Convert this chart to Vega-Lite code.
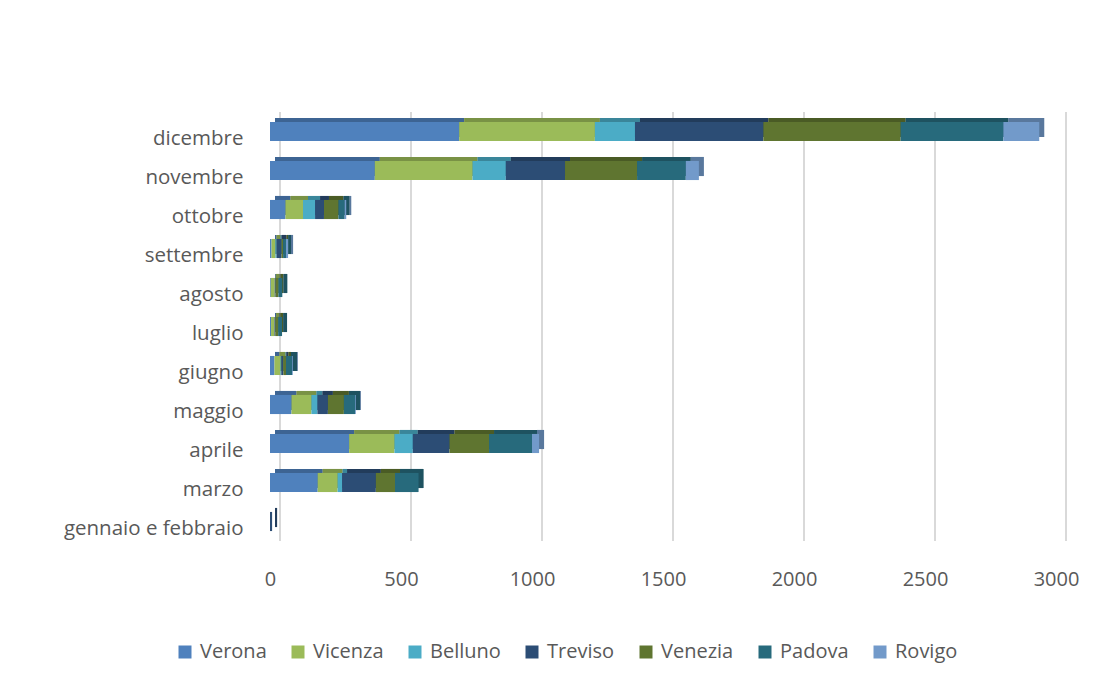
{
  "$schema": "https://vega.github.io/schema/vega-lite/v6.json",
  "width": 786,
  "height": 429,
  "autosize": {"type": "none"},
  "padding": {"left": 270, "top": 112, "right": 52, "bottom": 141},
  "background": "white",
  "config": {
    "view": {"stroke": null},
    "font": "Open Sans"
  },
  "datasets": {
    "province": [
      {"p": "Verona", "ordine": 1},
      {"p": "Vicenza", "ordine": 2},
      {"p": "Belluno", "ordine": 3},
      {"p": "Treviso", "ordine": 4},
      {"p": "Venezia", "ordine": 5},
      {"p": "Padova", "ordine": 6},
      {"p": "Rovigo", "ordine": 7}
    ],
    "griglia": [
      {"v": 0}, {"v": 500}, {"v": 1000}, {"v": 1500}, {"v": 2000}, {"v": 2500}, {"v": 3000}
    ],
    "casi": [
      {"m": "dicembre", "p": "Verona", "v": 722},
      {"m": "dicembre", "p": "Vicenza", "v": 518},
      {"m": "dicembre", "p": "Belluno", "v": 153},
      {"m": "dicembre", "p": "Treviso", "v": 490},
      {"m": "dicembre", "p": "Venezia", "v": 524},
      {"m": "dicembre", "p": "Padova", "v": 392},
      {"m": "dicembre", "p": "Rovigo", "v": 137},
      {"m": "novembre", "p": "Verona", "v": 400},
      {"m": "novembre", "p": "Vicenza", "v": 373},
      {"m": "novembre", "p": "Belluno", "v": 127},
      {"m": "novembre", "p": "Treviso", "v": 226},
      {"m": "novembre", "p": "Venezia", "v": 275},
      {"m": "novembre", "p": "Padova", "v": 186},
      {"m": "novembre", "p": "Rovigo", "v": 50},
      {"m": "ottobre", "p": "Verona", "v": 59},
      {"m": "ottobre", "p": "Vicenza", "v": 67},
      {"m": "ottobre", "p": "Belluno", "v": 46},
      {"m": "ottobre", "p": "Treviso", "v": 34},
      {"m": "ottobre", "p": "Venezia", "v": 55},
      {"m": "ottobre", "p": "Padova", "v": 24},
      {"m": "ottobre", "p": "Rovigo", "v": 6},
      {"m": "settembre", "p": "Verona", "v": 6},
      {"m": "settembre", "p": "Vicenza", "v": 15},
      {"m": "settembre", "p": "Belluno", "v": 4},
      {"m": "settembre", "p": "Treviso", "v": 19},
      {"m": "settembre", "p": "Venezia", "v": 6},
      {"m": "settembre", "p": "Padova", "v": 11},
      {"m": "settembre", "p": "Rovigo", "v": 8},
      {"m": "agosto", "p": "Verona", "v": 3},
      {"m": "agosto", "p": "Vicenza", "v": 15},
      {"m": "agosto", "p": "Belluno", "v": 0},
      {"m": "agosto", "p": "Treviso", "v": 3},
      {"m": "agosto", "p": "Venezia", "v": 11},
      {"m": "agosto", "p": "Padova", "v": 15},
      {"m": "agosto", "p": "Rovigo", "v": 0},
      {"m": "luglio", "p": "Verona", "v": 4},
      {"m": "luglio", "p": "Vicenza", "v": 13},
      {"m": "luglio", "p": "Belluno", "v": 0},
      {"m": "luglio", "p": "Treviso", "v": 3},
      {"m": "luglio", "p": "Venezia", "v": 11},
      {"m": "luglio", "p": "Padova", "v": 15},
      {"m": "luglio", "p": "Rovigo", "v": 0},
      {"m": "giugno", "p": "Verona", "v": 17},
      {"m": "giugno", "p": "Vicenza", "v": 23},
      {"m": "giugno", "p": "Belluno", "v": 3},
      {"m": "giugno", "p": "Treviso", "v": 8},
      {"m": "giugno", "p": "Venezia", "v": 10},
      {"m": "giugno", "p": "Padova", "v": 23},
      {"m": "giugno", "p": "Rovigo", "v": 3},
      {"m": "maggio", "p": "Verona", "v": 82},
      {"m": "maggio", "p": "Vicenza", "v": 76},
      {"m": "maggio", "p": "Belluno", "v": 23},
      {"m": "maggio", "p": "Treviso", "v": 40},
      {"m": "maggio", "p": "Venezia", "v": 61},
      {"m": "maggio", "p": "Padova", "v": 43},
      {"m": "maggio", "p": "Rovigo", "v": 3},
      {"m": "aprile", "p": "Verona", "v": 302},
      {"m": "aprile", "p": "Vicenza", "v": 173},
      {"m": "aprile", "p": "Belluno", "v": 70},
      {"m": "aprile", "p": "Treviso", "v": 140},
      {"m": "aprile", "p": "Venezia", "v": 151},
      {"m": "aprile", "p": "Padova", "v": 164},
      {"m": "aprile", "p": "Rovigo", "v": 27},
      {"m": "marzo", "p": "Verona", "v": 182},
      {"m": "marzo", "p": "Vicenza", "v": 76},
      {"m": "marzo", "p": "Belluno", "v": 17},
      {"m": "marzo", "p": "Treviso", "v": 129},
      {"m": "marzo", "p": "Venezia", "v": 73},
      {"m": "marzo", "p": "Padova", "v": 90},
      {"m": "marzo", "p": "Rovigo", "v": 0},
      {"m": "gennaio e febbraio", "p": "Verona", "v": 0},
      {"m": "gennaio e febbraio", "p": "Vicenza", "v": 0},
      {"m": "gennaio e febbraio", "p": "Belluno", "v": 0},
      {"m": "gennaio e febbraio", "p": "Treviso", "v": 8},
      {"m": "gennaio e febbraio", "p": "Venezia", "v": 0},
      {"m": "gennaio e febbraio", "p": "Padova", "v": 0},
      {"m": "gennaio e febbraio", "p": "Rovigo", "v": 0}
    ]
  },
  "resolve": {"axis": {"x": "shared"}},
  "layer": [
    {
      "data": {"name": "griglia"},
      "mark": {"type": "rule", "color": "#d9d9d9", "strokeWidth": 2, "xOffset": 10},
      "encoding": {
        "x": {
          "field": "v",
          "type": "quantitative",
          "scale": {"domain": [0, 3000], "nice": false},
          "axis": {
            "title": null,
            "domain": false,
            "ticks": false,
            "grid": false,
            "format": "d",
            "values": [0, 500, 1000, 1500, 2000, 2500, 3000],
            "labelPadding": 28,
            "labelFontSize": 20,
            "labelColor": "#595959",
            "labelFont": "Open Sans",
            "labelFlush": false
          }
        }
      }
    },
    {
      "data": {"name": "casi"},
      "transform": [
        {"lookup": "p", "from": {"data": {"name": "province"}, "key": "p", "fields": ["ordine"]}}
      ],
      "layer": [
        {
          "mark": {"type": "bar", "xOffset": 5, "x2Offset": 5, "yOffset": -4, "y2Offset": -4},
          "encoding": {
            "color": {"field": "p", "type": "nominal"}
          }
        },
        {
          "mark": {"type": "bar", "xOffset": 5, "x2Offset": 5, "yOffset": -4, "y2Offset": -4, "color": "black", "opacity": 0.22},
          "encoding": {
            "detail": {"field": "p", "type": "nominal"}
          }
        },
        {
          "mark": {"type": "bar"},
          "encoding": {
            "color": {
              "field": "p",
              "type": "nominal",
              "scale": {
                "domain": ["Verona", "Vicenza", "Belluno", "Treviso", "Venezia", "Padova", "Rovigo"],
                "range": ["#4f81bd", "#9bbb59", "#4bacc6", "#2c4d75", "#5f7530", "#276a7c", "#729aca"]
              },
              "legend": {
                "title": null,
                "orient": "none",
                "legendX": -95,
                "legendY": 530,
                "direction": "horizontal",
                "symbolType": "square",
                "symbolSize": 169,
                "symbolStrokeWidth": 0,
                "labelFontSize": 20,
                "labelColor": "#595959",
                "labelFont": "Open Sans",
                "labelOffset": 5,
                "columnPadding": 21,
                "padding": 0
              }
            }
          }
        }
      ],
      "encoding": {
        "y": {
          "field": "m",
          "type": "nominal",
          "sort": ["dicembre", "novembre", "ottobre", "settembre", "agosto", "luglio", "giugno", "maggio", "aprile", "marzo", "gennaio e febbraio"],
          "scale": {"paddingInner": 0.51, "paddingOuter": 0.255},
          "axis": {
            "title": null,
            "domain": false,
            "ticks": false,
            "labelPadding": 27,
            "labelOffset": 7,
            "labelFontSize": 20.5,
            "labelColor": "#595959",
            "labelFont": "Open Sans"
          }
        },
        "x": {
          "field": "v",
          "type": "quantitative",
          "stack": "zero",
          "scale": {"domain": [0, 3000], "nice": false}
        },
        "order": {"field": "ordine", "type": "quantitative"}
      }
    }
  ]
}
